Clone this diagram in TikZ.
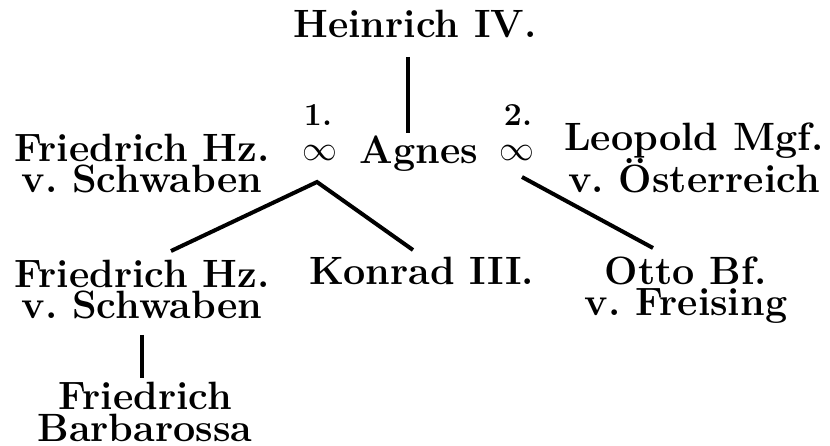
\documentclass[tikz,border=0pt]{standalone}
\usepackage{fontspec}
\usepackage{graphicx}
\frenchspacing
\newcommand{\marsym}{\scalebox{1.4}{$\infty$}}
\begin{document}
\begin{tikzpicture}[x=1pt,y=-1pt,
  person/.style={font=\fontsize{39.5}{31.5}\selectfont\bfseries, align=center, inner sep=0pt, anchor=base},
  num/.style={font=\fontsize{32}{32}\selectfont\bfseries, inner sep=0pt, anchor=base},
  mar/.style={font=\fontsize{24.88}{25}\selectfont, inner sep=0pt},
  conn/.style={line width=4pt, line join=miter}]
\useasboundingbox (0,0) rectangle (830,446);
% base anchor of a multi-line node = baseline of its last line
\node[person] (heinrich) at (415,38) {Heinrich IV.};
\node[person] (agnes) at (419,164) {Agnes};
\node[person] (fs1) at (142,193) {Friedrich Hz.\\v. Schwaben};
\node[person] (leo) at (694,193) {Leopold Mgf.\\v. Österreich};
\node[num] (n1) at (318,126) {1.};
\node[num] (n2) at (518,126) {2.};
\node[mar] (inf1) at (320,153) {\marsym};
\node[mar] (inf2) at (517,153) {\marsym};
\node[person] (fs2) at (142,319) {Friedrich Hz.\\v. Schwaben};
\node[person] (konrad) at (422,285) {Konrad III.};
\node[person] (otto) at (686,316) {Otto Bf.\\v. Freising};
\node[person] (barb) at (145,441) {Friedrich\\Barbarossa};
\coordinate (hbot) at (408,57);
\coordinate (atop) at (408,133);
\coordinate (m1) at (317,182);
\coordinate (c1) at (171,251);
\coordinate (c2) at (413,250);
\coordinate (m2) at (522,177);
\coordinate (c3) at (653,248);
\coordinate (fbot) at (142,335);
\coordinate (btop) at (142,378);
\draw[conn] (hbot) -- (atop);
\draw[conn] (c1) -- (m1) -- (c2);
\draw[conn] (m2) -- (c3);
\draw[conn] (fbot) -- (btop);
\end{tikzpicture}
\end{document}
